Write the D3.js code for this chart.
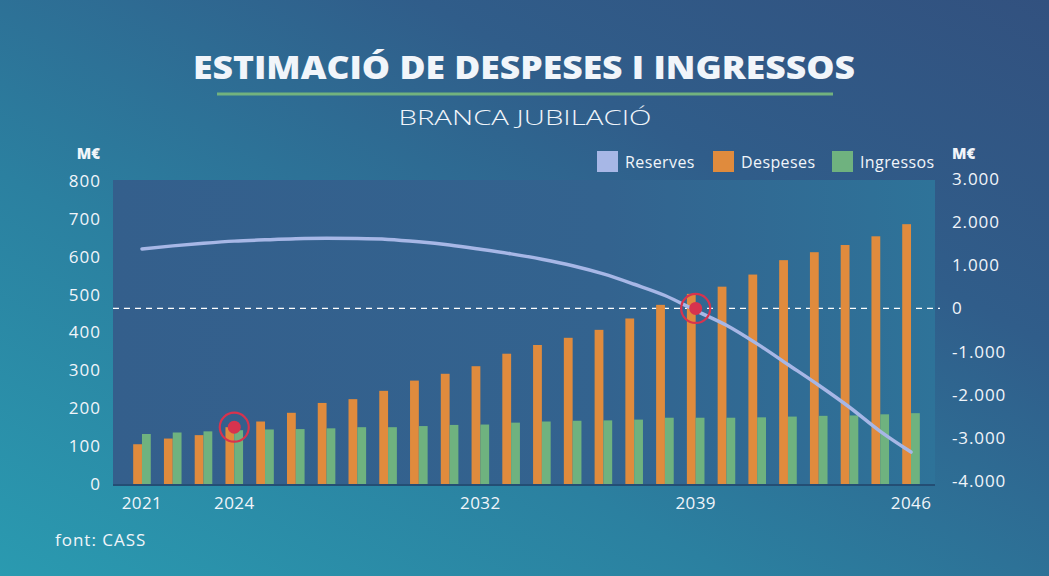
<!DOCTYPE html>
<html><head><meta charset="utf-8">
<script src="https://cdn.jsdelivr.net/npm/d3@7"></script>
<style>
html,body{margin:0;padding:0;overflow:hidden;background:#2b6f98;}
svg{display:block;}
text{font-family:"Open Sans",sans-serif;fill:#f1f5fa;}
</style></head>
<body>
<svg id="c" width="1049" height="576"></svg>
<script>
const years = d3.range(2021, 2047);
const despeses = [105,120,129,150,165,188,214,224,246,273,291,311,344,367,386,407,437,473,502,521,553,591,612,631,654,686];
const ingressos = [132,136,139,142,144,145,147,150,150,153,156,157,162,165,167,168,170,175,175,175,176,178,180,181,184,187];
const reserves = [1380,1450,1510,1560,1590,1615,1625,1620,1600,1545,1470,1372,1265,1140,990,800,560,300,-50,-390,-822,-1300,-1780,-2290,-2850,-3330];
const leftTicks = [0,100,200,300,400,500,600,700,800];
const rightTicks = [3000,2000,1000,0,-1000,-2000,-3000,-4000];
const xLabels = [2021,2024,2032,2039,2046];
const legendItems = ["Reserves","Despeses","Ingressos"];
const markers = [{year:2024, series:"Despeses"},{year:2039, series:"Reserves"}];

const colors = {Reserves:"#a7b7e6", Despeses:"#e08b3d", Ingressos:"#6fb27f"};
const svg = d3.select("#c");
const W = 1049, H = 576;
const plot = {l:113, r:935, t:180, b:484};

// background
const defs = svg.append("defs");
const bg = defs.append("linearGradient").attr("id","bg").attr("x1","0").attr("y1","1").attr("x2","1").attr("y2","0");
bg.append("stop").attr("offset","0").attr("stop-color","#2a9ab0");
bg.append("stop").attr("offset","0.35").attr("stop-color","#2b80a0");
bg.append("stop").attr("offset","0.7").attr("stop-color","#305d8a");
bg.append("stop").attr("offset","1").attr("stop-color","#32517f");
svg.append("rect").attr("width",W).attr("height",H).attr("fill","url(#bg)");

const pg = defs.append("linearGradient").attr("id","pg").attr("x1","0").attr("y1","0").attr("x2","1").attr("y2","0");
pg.append("stop").attr("offset","0").attr("stop-color","#345f8c");
pg.append("stop").attr("offset","0.6").attr("stop-color","#33638f");
pg.append("stop").attr("offset","1").attr("stop-color","#2e7399");
svg.append("rect").attr("x",plot.l).attr("y",plot.t).attr("width",plot.r-plot.l).attr("height",plot.b-plot.t)
  .attr("fill","url(#pg)");

// scales
const x = d3.scaleBand().domain(years).range([126.6, 926.4]).padding(0);
const cx = d => x(d) + x.bandwidth()/2;
const yL = d3.scaleLinear().domain([0,800]).range([484,181]);
const yR = d3.scaleLinear().domain([-4000,3000]).range([481,179]);
const bw = 8.8;

// title
svg.append("text").attr("x",524).attr("y",79).attr("text-anchor","middle")
  .style("font-family","'Open Sans',sans-serif").style("font-weight",800).style("font-size","31px")
  .attr("textLength",662).attr("lengthAdjust","spacingAndGlyphs")
  .text("ESTIMACIÓ DE DESPESES I INGRESSOS");
svg.append("line").attr("x1",217).attr("x2",833).attr("y1",94).attr("y2",94)
  .attr("stroke","#72b27e").attr("stroke-width",3);
svg.append("text").attr("x",525).attr("y",125).attr("text-anchor","middle")
  .style("font-family","'Open Sans',sans-serif").style("font-weight",300).style("font-size","21px")
  .attr("textLength",253).attr("lengthAdjust","spacingAndGlyphs")
  .text("BRANCA JUBILACIÓ");

// axes
const loc = d3.formatLocale({decimal:",", thousands:".", grouping:[3], currency:["","€"], minus:"-"});
const fmt = loc.format(",");
const axL = svg.append("g").attr("transform",`translate(101,0)`)
  .call(d3.axisLeft(yL).tickValues(leftTicks).tickSize(0).tickPadding(0));
axL.select(".domain").remove();
axL.selectAll("text").style("font-family","'Open Sans',sans-serif").style("font-size","17px")
  .style("letter-spacing","1px").attr("fill","#eef3f8");
const axR = svg.append("g").attr("transform",`translate(952,0)`)
  .call(d3.axisRight(yR).tickValues(rightTicks).tickSize(0).tickPadding(0).tickFormat(fmt));
axR.select(".domain").remove();
axR.selectAll("text").style("font-family","'Open Sans',sans-serif").style("font-size","17px")
  .style("letter-spacing","0.9px").attr("fill","#eef3f8");

svg.append("text").attr("x",100).attr("y",159).attr("text-anchor","end")
  .style("font-weight",800).style("font-size","15px").text("M€");
svg.append("text").attr("x",952).attr("y",159).attr("text-anchor","start")
  .style("font-weight",800).style("font-size","15px").text("M€");

// x labels
const axX = svg.append("g").attr("transform",`translate(0,492)`)
  .call(d3.axisBottom(x).tickValues(xLabels).tickSize(0).tickPadding(0));
axX.select(".domain").remove();
axX.selectAll("text").attr("dy","1em").style("font-family","'Open Sans',sans-serif").style("font-size","17px")
  .style("letter-spacing","0.4px").attr("fill","#eef3f8");

// zero dashed line
svg.append("line").attr("x1",plot.l).attr("x2",940).attr("y1",yR(0)).attr("y2",yR(0))
  .attr("stroke","#ffffff").attr("stroke-width",1.2).attr("stroke-dasharray","6,5");

// bars
svg.append("g").selectAll("rect").data(years).join("rect")
  .attr("x",(d)=>cx(d)-bw).attr("width",bw)
  .attr("y",(d,i)=>yL(despeses[i])).attr("height",(d,i)=>yL(0)-yL(despeses[i]))
  .attr("fill",colors.Despeses);
svg.append("g").selectAll("rect").data(years).join("rect")
  .attr("x",(d)=>cx(d)).attr("width",bw)
  .attr("y",(d,i)=>yL(ingressos[i])).attr("height",(d,i)=>yL(0)-yL(ingressos[i]))
  .attr("fill",colors.Ingressos);

// baseline
svg.append("line").attr("x1",plot.l).attr("x2",plot.r).attr("y1",plot.b+1).attr("y2",plot.b+1)
  .attr("stroke","#244e74").attr("stroke-width",2);

// reserves line
const line = d3.line().x((d,i)=>cx(years[i])).y(d=>yR(d)).curve(d3.curveMonotoneX);
svg.append("path").attr("d",line(reserves)).attr("fill","none")
  .attr("stroke",colors.Reserves).attr("stroke-width",3.5).attr("stroke-linecap","round");

// markers
markers.forEach(m=>{
  const i = years.indexOf(m.year);
  const mx = cx(m.year);
  const my = m.series==="Despeses" ? yL(despeses[i]) : yR(0);
  svg.append("circle").attr("cx",mx).attr("cy",my).attr("r",14.5).attr("fill","none")
    .attr("stroke","#d7334e").attr("stroke-width",2.2);
  svg.append("circle").attr("cx",mx).attr("cy",my).attr("r",6.5).attr("fill","#d7334e");
});

// legend
const lgX = [597,713,832];
legendItems.forEach((k,i)=>{
  svg.append("rect").attr("x",lgX[i]).attr("y",151).attr("width",21).attr("height",21).attr("fill",colors[k]);
  svg.append("text").attr("x",lgX[i]+28).attr("y",168).style("font-size","16px")
    .style("letter-spacing","0.4px")
    .style("font-family","'Open Sans',sans-serif").attr("fill","#eef3f8").text(k);
});

// source
svg.append("text").attr("x",55).attr("y",546).style("font-size","17px").style("letter-spacing","1px")
  .attr("fill","#eef3f8").text("font: CASS");
</script>
</body></html>
